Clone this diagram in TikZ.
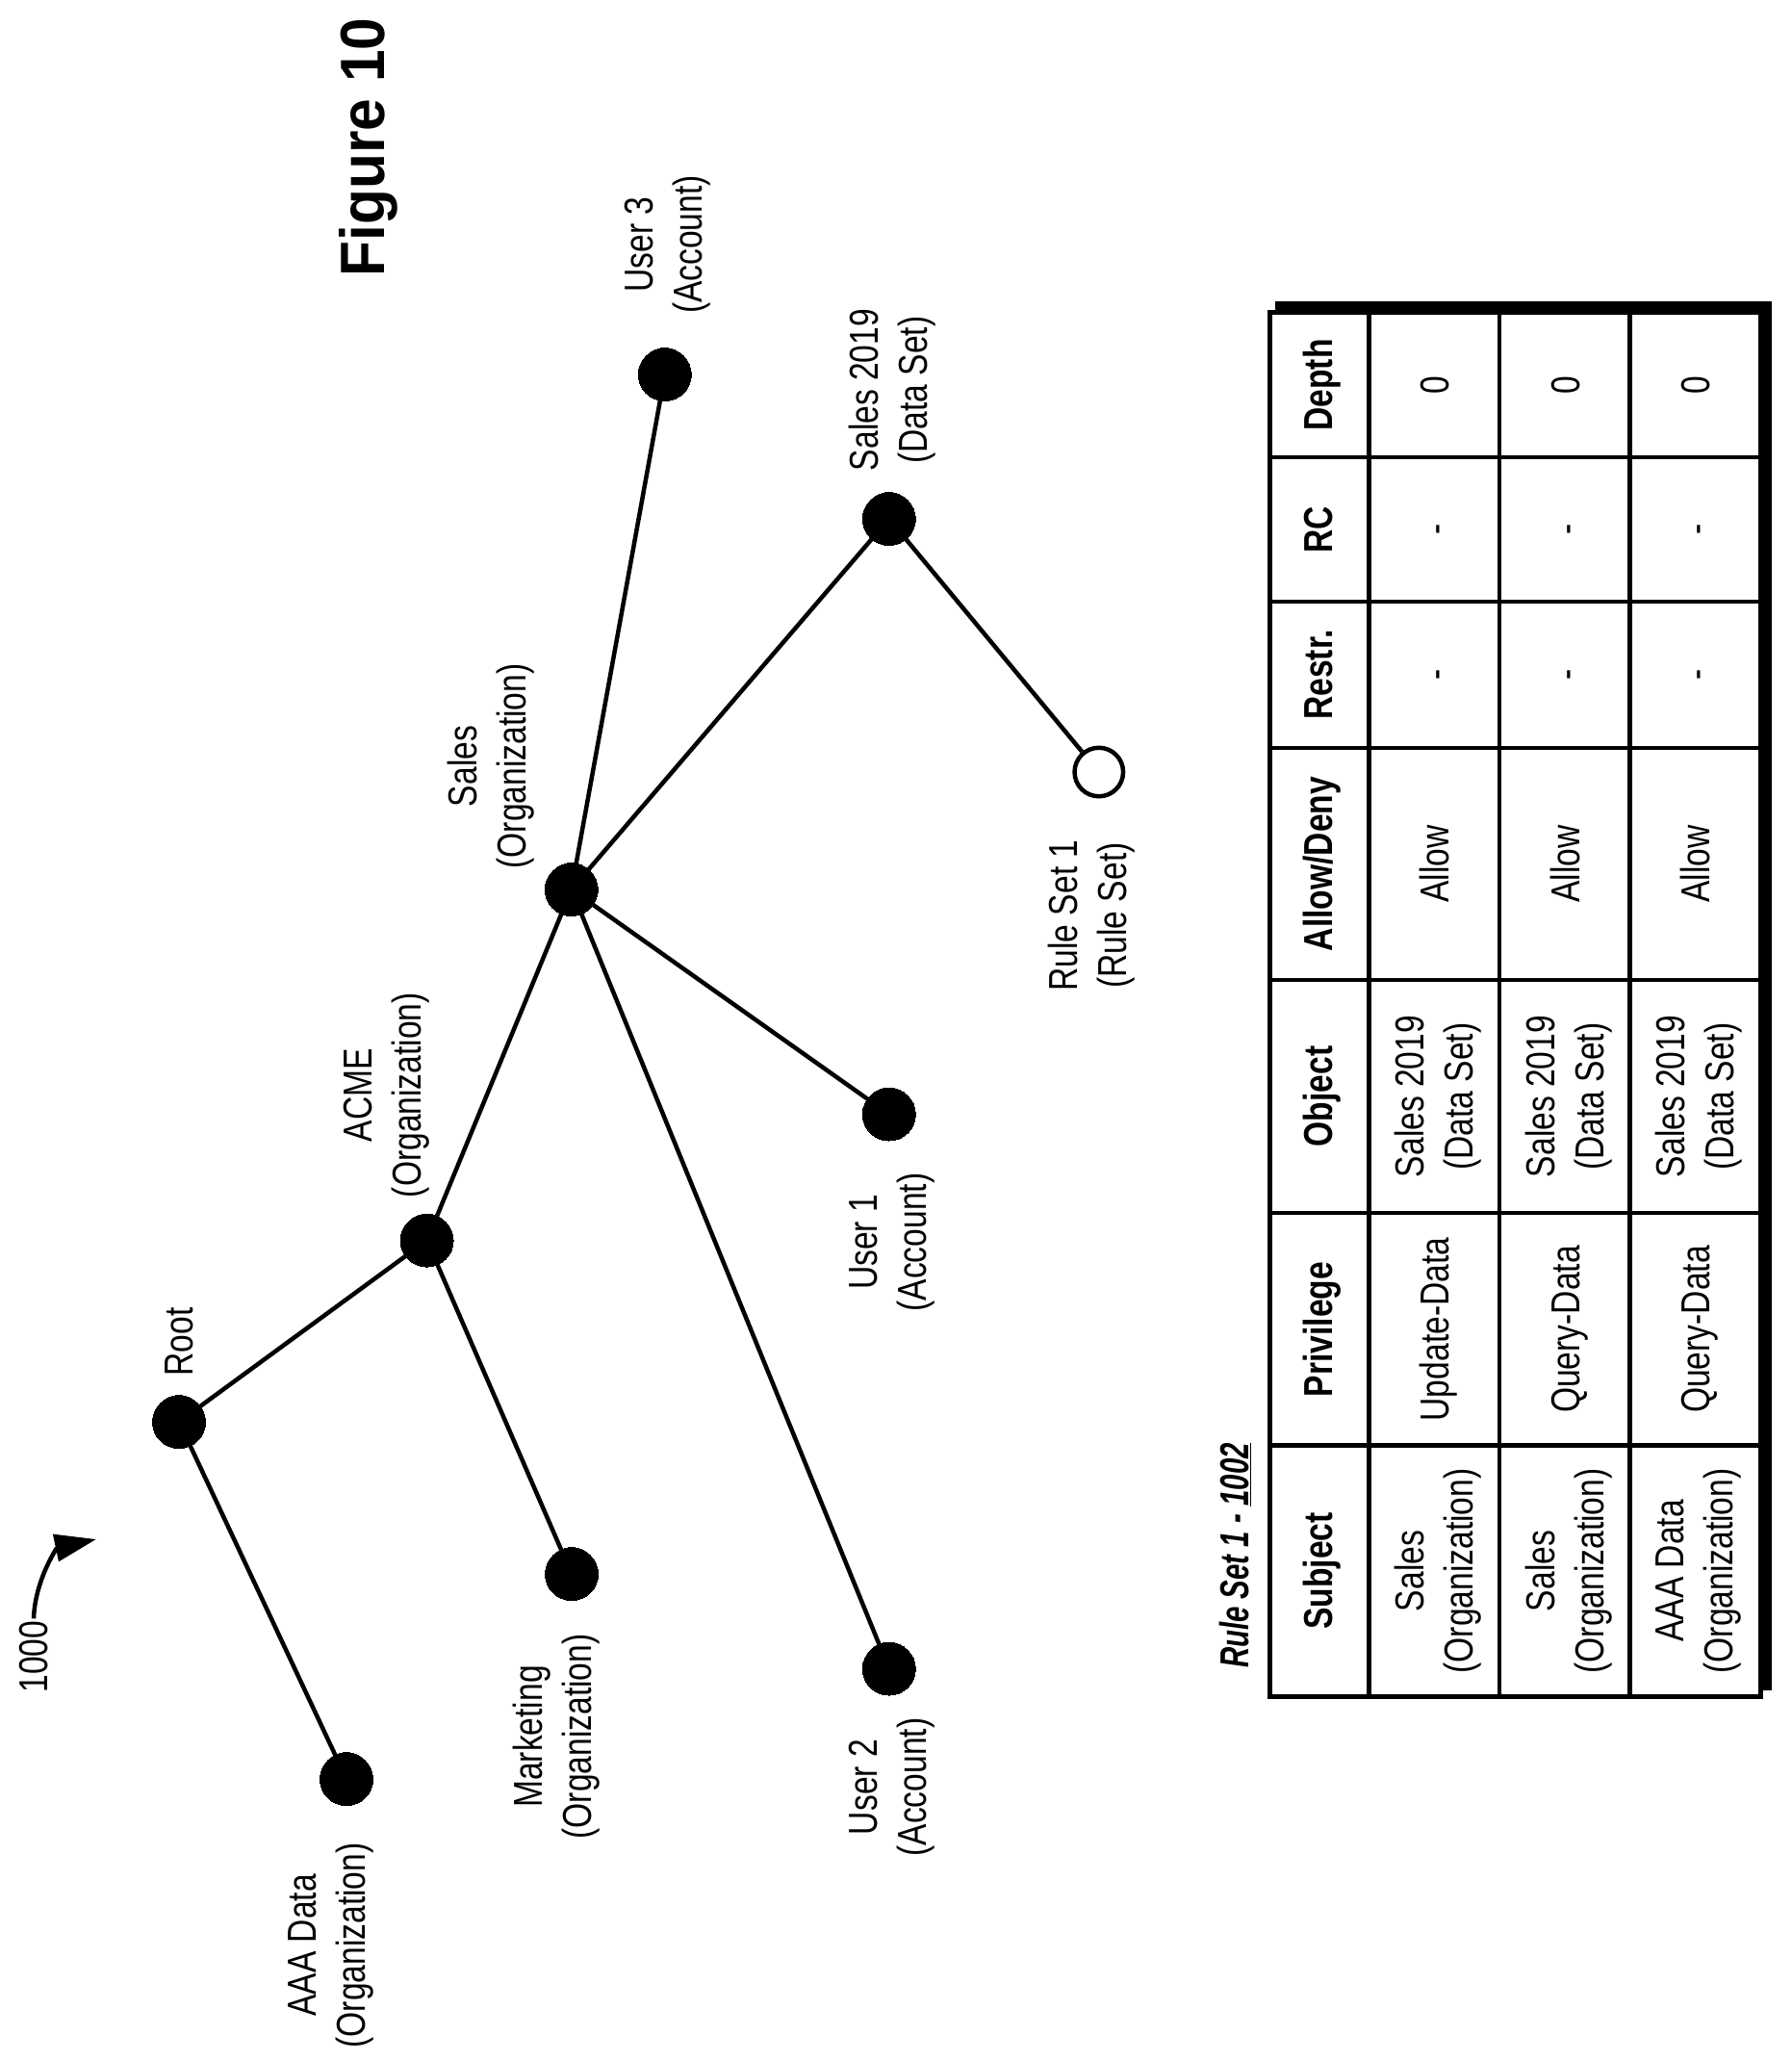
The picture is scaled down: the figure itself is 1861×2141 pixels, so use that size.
\documentclass[tikz,border=0pt]{standalone}
\usepackage{fontspec}
\usepackage{tikz}
\usetikzlibrary{positioning,arrows.meta}
\newfontfamily\narrowfont[FakeStretch=0.8]{Liberation Sans}
\newfontfamily\titlefont[FakeStretch=0.7]{Liberation Sans}
\newfontfamily\figfont[FakeStretch=0.93]{Liberation Sans}
\setmainfont{Liberation Sans}

\begin{document}
\begin{tikzpicture}[x=1pt,y=1pt,on grid,line width=4.5pt,
    dot/.style={circle,draw,fill=black,minimum size=55pt,inner sep=0pt,line width=0pt},
    opendot/.style={circle,draw,fill=white,minimum size=50.5pt,inner sep=0pt},
    lbl/.style={rotate=90,align=center,inner sep=0pt,font=\narrowfont\fontsize{42}{51}\selectfont},
    cell/.style={lbl,text height=30pt,text depth=8pt},
    head/.style={cell,font=\narrowfont\bfseries\fontsize{42}{51}\selectfont}]
   \useasboundingbox (0,0) rectangle (1861,-2141);

   \node[dot] (Root) at (186,-1477) {};
   \node[dot] (ACME) [above right=188.4pt and 257.6pt of Root] {};
   \node[dot] (Sales) [above right=364.6pt and 150.2pt of ACME] {};
   \node[dot] (User3) [above right=535pt and 97pt of Sales] {};
   \node[dot] (Sales2019) [above right=385pt and 330pt of Sales] {};
   \node[opendot] (RuleSet) [below right=263pt and 218pt of Sales2019] {};
   \node[dot] (User1) [below right=233.5pt and 330pt of Sales] {};
   \node[dot] (User2) [below right=809.5pt and 330pt of Sales] {};
   \node[dot] (Marketing) [below right=346.4pt and 150.4pt of ACME] {};
   \node[dot] (AAA) [below right=371pt and 174pt of Root] {};

   \node[lbl] (RootLbl) [above=83pt of Root] {Root};
   \node[lbl] (ACMELbl) [above left=151pt and 42pt of ACME] {ACME\\(Organization)};
   \node[lbl] (SalesLbl) [above left=128pt and 84pt of Sales] {Sales\\(Organization)};
   \node[lbl] (User3Lbl) [above right=135pt and 3pt of User3] {User 3\\(Account)};
   \node[lbl] (Sales2019Lbl) [above right=134pt and 3pt of Sales2019] {Sales 2019\\(Data Set)};
   \node[lbl] (RuleSetLbl) [below left=149pt and 8pt of RuleSet] {Rule Set 1\\(Rule Set)};
   \node[lbl] (User1Lbl) [below right=133pt and 3pt of User1] {User 1\\(Account)};
   \node[lbl] (User2Lbl) [below right=123pt and 3pt of User2] {User 2\\(Account)};
   \node[lbl] (MarketingLbl) [below left=169pt and 16pt of Marketing] {Marketing\\(Organization)};
   \node[lbl] (AAALbl) [below left=173pt and 16pt of AAA] {AAA Data\\(Organization)};

   \path
    (Root) edge (ACME)
          edge (AAA)
    (ACME) edge (Sales)
          edge (Marketing)
    (Sales) edge (User3)
          edge (Sales2019)
          edge (User1)
          edge (User2)
    (Sales2019) edge (RuleSet);

   \node[lbl] (Ref) at (35,-1721) {1000};
   \coordinate (RefTip) at (100,-1599);
   \draw[-{Triangle[length=43pt,width=28pt]}] (Ref.east) to[out=88,in=192] (RefTip);

   \node[rotate=90,inner sep=0pt,font=\figfont\bfseries\fontsize{65}{70}\selectfont] (Fig) at (383,-153) {Figure 10};

   \node[rotate=90,inner sep=0pt,font=\titlefont\bfseries\itshape\fontsize{42}{51}\selectfont] (Title) at (1283,-1616)
     {Rule Set 1 - \underline{1002}};

   \fill (1325,-313) rectangle (1841,-1756);
   \filldraw[fill=white,line width=5pt] (1319,-324.5) rectangle (1829.5,-1762.5);
   \foreach \ypos in {475,625,777,1018,1260,1501.5}
     \draw (1319,-\ypos) -- (1829.5,-\ypos);
   \foreach \xpos in {1422.5,1558,1693.5}
     \draw (\xpos,-324.5) -- (\xpos,-1762.5);

   \foreach \name/\ypos/\sty/\hd/\ra/\rb/\rc in {
     sub/1632/lbl/Subject/Sales\\(Organization)/Sales\\(Organization)/AAA Data\\(Organization),
     pri/1381/cell/Privilege/Update-Data/Query-Data/Query-Data,
     obj/1139/lbl/Object/Sales 2019\\(Data Set)/Sales 2019\\(Data Set)/Sales 2019\\(Data Set),
     all/897.5/cell/Allow\slash Deny/Allow/Allow/Allow,
     res/701/cell/Restr./-/-/-,
     rcc/550/cell/RC/-/-/-,
     dep/400/cell/Depth/0/0/0} {
     \node[head] (\name0) at (1373,-\ypos) {\hd};
     \node[\sty] (\name1) at (1494,-\ypos) {\ra};
     \node[\sty] (\name2) at (1630,-\ypos) {\rb};
     \node[\sty] (\name3) at (1765,-\ypos) {\rc};
   }
\end{tikzpicture}
\end{document}
